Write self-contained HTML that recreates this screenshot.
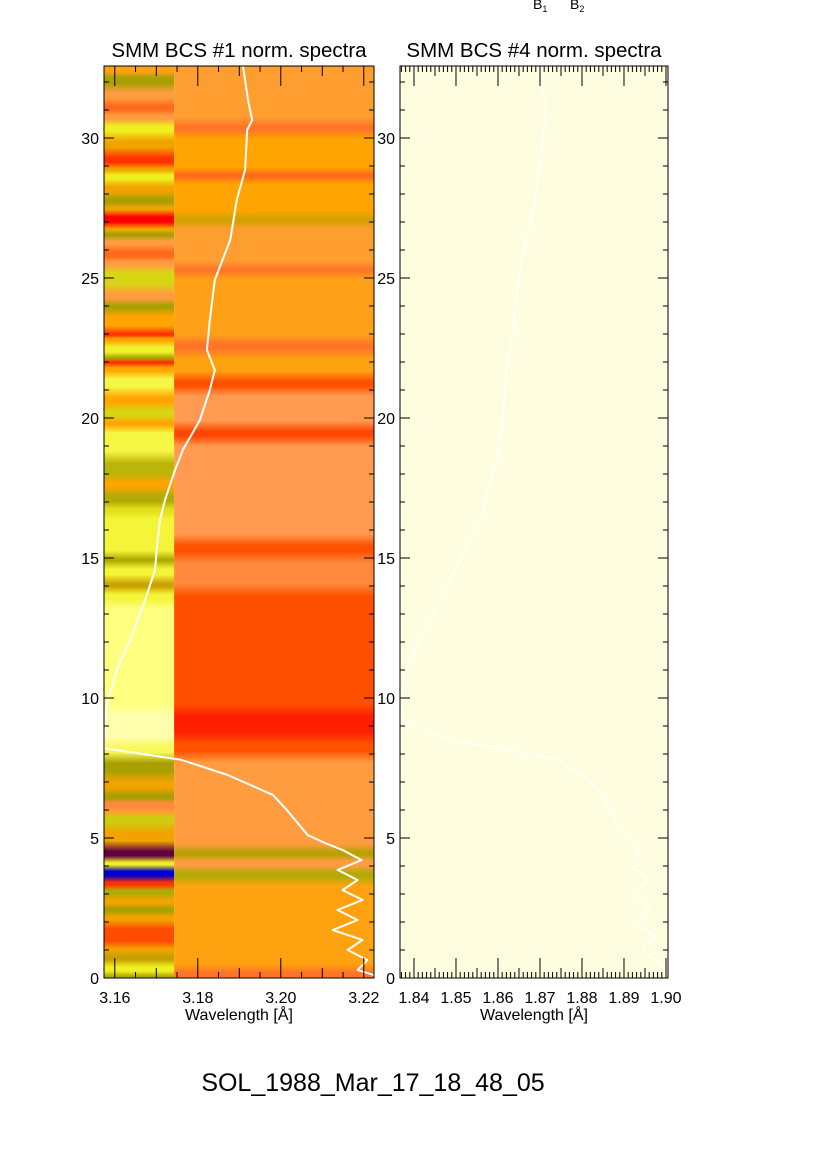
<!DOCTYPE html>
<html><head><meta charset="utf-8"><style>
body{margin:0;background:#fff;}
svg{display:block;font-family:"Liberation Sans",sans-serif;}
</style></head><body>
<svg id="c" width="826" height="1169" viewBox="0 0 826 1169">
<defs id="defs"></defs>
<g id="g"></g>
</svg>
<script>
// ---- data ----
const stripTops = [32.57,32.3,31.8,31.25,30.9,30.57,30.1,29.46,28.96,28.8,28.43,27.9,27.6,27.36,26.82,26.64,26.46,26.07,25.64,25.4,24.57,24.1,23.86,23.07,22.9,22.7,22.18,22.07,21.9,21.6,20.9,20.4,19.93,19.68,18.6,17.8,17.43,16.82,16.6,15.04,14.82,14.2,13.86,13.4,9.57,8.4,7.9,7.18,6.6,6.36,6.0,5.9,5.4,4.68,4.21,3.96,3.5,3.25,2.9,2.54,2.32,1.96,1.1,0.9,0.54,0.1];
const stripVals = [0.55,0.7,0.5,0.4,0.5,0.85,0.6,0.3,0.6,0.85,0.6,0.7,0.6,0.2,0.6,0.7,0.5,0.4,0.5,0.8,0.5,0.7,0.58,0.3,0.58,0.86,0.7,0.3,0.58,0.88,0.58,0.8,0.58,0.88,0.74,0.58,0.72,0.82,0.87,0.72,0.87,0.65,0.87,0.93,0.97,0.9,0.7,0.6,0.7,0.45,0.52,0.78,0.6,0.03,0.85,0.0,0.3,0.72,0.6,0.7,0.6,0.35,0.6,0.66,0.85,0.72];
const mainTops = [32.57,30.54,30.18,28.75,28.57,27.18,26.96,25.4,25.18,22.79,22.32,21.46,21.0,19.68,19.21,15.64,15.04,13.86,9.57,8.6,7.9,4.57,4.32,3.86,3.5,0.29];
const mainVals = [0.52,0.42,0.58,0.4,0.58,0.64,0.52,0.42,0.55,0.42,0.56,0.36,0.48,0.34,0.48,0.36,0.45,0.36,0.26,0.36,0.5,0.68,0.5,0.72,0.56,0.42];
const curve1X = [3.1909,3.1921,3.1931,3.1919,3.1914,3.1894,3.1878,3.1841,3.1829,3.1822,3.1841,3.1829,3.1805,3.1764,3.1745,3.1721,3.1709,3.1702,3.1697,3.1673,3.1637,3.1605,3.1584,3.1576,3.1574,3.1761,3.1872,3.1981,3.2017,3.2065,3.2110,3.2149,3.2195,3.2137,3.2185,3.2149,3.2197,3.2137,3.2185,3.2125,3.2197,3.2161,3.2209,3.2185,3.2225];
const curve1Y = [32.57,31.36,30.64,30.29,28.86,27.79,26.36,24.93,23.5,22.43,21.71,21.0,19.93,18.86,18.14,17.07,16.36,15.46,14.57,13.5,12.07,11.0,9.93,9.21,8.21,7.79,7.25,6.54,5.96,5.1,4.8,4.57,4.21,3.86,3.5,3.14,2.79,2.43,2.07,1.71,1.36,1.0,0.64,0.29,0.1];
const curve2X = [1.8707,1.8712,1.8688,1.8652,1.8633,1.8617,1.8612,1.8598,1.8557,1.8510,1.8462,1.8414,1.8390,1.8376,1.8367,1.8486,1.8629,1.8748,1.8843,1.8890,1.8938,1.8915,1.8962,1.8920,1.8962,1.8925,1.8974,1.8945,1.8986,1.9005];
const curve2Y = [32.57,30.64,27.79,25.29,22.79,21.36,19.93,18.5,16.36,14.93,13.5,12.07,11.36,10.64,9.21,8.5,8.14,7.79,6.71,5.29,4.57,4.0,3.5,3.0,2.5,2.0,1.5,1.0,0.5,0.1];
const xTicks1 = ["3.16","3.18","3.20","3.22"];
const xTicks2 = ["1.84","1.85","1.86","1.87","1.88","1.89","1.90"];
const yTicks = ["0","5","10","15","20","25","30"];

// ---- layout ----
const NS="http://www.w3.org/2000/svg";
const g=document.getElementById('g'), defs=document.getElementById('defs');
const top_=66,bot=978,yMax=(978-66)/28;
const y=v=>bot-v*28;
const P1={x0:104,x1:374,w0:3.1574,w1:3.1574+270/4150}, P2={x0:400,x1:668,w0:1.83667,w1:1.83667+268/4200};
const sx=(P,w)=>P.x0+(w-P.w0)/(P.w1-P.w0)*(P.x1-P.x0);
function el(t,a,p){const e=document.createElementNS(NS,t);for(const k in a)e.setAttribute(k,a[k]);(p||g).appendChild(e);return e;}
const stops=[[0,[0,0,208]],[0.03,[96,0,64]],[0.2,[255,0,0]],[0.36,[255,80,0]],[0.48,[255,154,80]],[0.58,[255,164,0]],[0.7,[168,160,0]],[0.85,[240,240,32]],[0.93,[255,255,128]],[1,[255,255,208]]];
function cmap(v){for(let i=1;i<stops.length;i++){if(v<=stops[i][0]){const [a,ca]=stops[i-1],[b,cb]=stops[i];const t=(v-a)/(b-a);return 'rgb('+ca.map((c,k)=>Math.round(c+(cb[k]-c)*t)).join(',')+')';}}return 'rgb(255,255,208)';}
function gradient(id,tops,vals){
  const lg=el('linearGradient',{id:id,x1:0,y1:0,x2:0,y2:1},defs);
  const bl=0.22;
  for(let i=0;i<tops.length;i++){
    const t=Math.min(tops[i],yMax), b=i+1<tops.length?tops[i+1]:0;
    const h=t-b, e=Math.min(bl,h/3);
    const c=cmap(vals[i]);
    el('stop',{offset:((yMax-(t-e))/yMax).toFixed(5),'stop-color':c},lg);
    el('stop',{offset:((yMax-(b+e))/yMax).toFixed(5),'stop-color':c},lg);
  }
}
gradient('gs',stripTops,stripVals);gradient('gm',mainTops,mainVals);
const stripEnd=sx(P1,3.1743);
let r=el('rect',{x:P1.x0,y:top_,width:stripEnd-P1.x0,height:bot-top_,fill:'url(#gs)'});

r=el('rect',{x:stripEnd,y:top_,width:P1.x1-stripEnd,height:bot-top_,fill:'url(#gm)'});

r=el('rect',{x:P2.x0,y:top_,width:P2.x1-P2.x0,height:bot-top_,fill:'#fffde0'});


function line(P,xs,ys,col,name){
  const d=xs.map((w,i)=>(i?'L':'M')+sx(P,w).toFixed(1)+','+y(ys[i]).toFixed(1)).join('');
  const p=el('path',{d:d,fill:'none',stroke:col,'stroke-width':2,'stroke-linejoin':'round'});
  
}
line(P1,curve1X,curve1Y,'#ffffff','lightcurve-bcs1');
line(P2,curve2X,curve2Y,'#fffff6','lightcurve-bcs4');

function axes(P,ticks,minorStep,midStep,title,tname){
  const fr=el('rect',{x:P.x0,y:top_,width:P.x1-P.x0,height:bot-top_,fill:'none',stroke:'#000','stroke-width':1});
  
  for(let v=0;v<=32;v++){const L=v%5===0?10:5;
    el('line',{x1:P.x0,x2:P.x0+L,y1:y(v),y2:y(v),stroke:'#000'});
    el('line',{x1:P.x1,x2:P.x1-L,y1:y(v),y2:y(v),stroke:'#000'});}
  yTicks.forEach(t=>{const tx=el('text',{x:P.x0-5,y:y(+t)+6,'text-anchor':'end','font-size':16},g);tx.textContent=t;
    });
  for(let i=Math.ceil(P.w0/minorStep-1e-6);i*minorStep<=P.w1+1e-9;i++){
    const w=i*minorStep,xx=sx(P,w);
    const major=ticks.some(t=>Math.abs(+t-w)<minorStep/3);
    const mid=Math.abs(w/midStep-Math.round(w/midStep))<1e-4;
    const L=major?20:(mid?10:6);
    el('line',{x1:xx,x2:xx,y1:bot,y2:bot-L,stroke:'#000'});
    el('line',{x1:xx,x2:xx,y1:top_,y2:top_+L,stroke:'#000'});}
  ticks.forEach(t=>{const tx=el('text',{x:sx(P,+t),y:1003,'text-anchor':'middle','font-size':16},g);tx.textContent=t;
    });
  let tx=el('text',{x:(P.x0+P.x1)/2,y:1020,'text-anchor':'middle','font-size':16});tx.textContent='Wavelength [Å]';
  
  tx=el('text',{x:(P.x0+P.x1)/2,y:57,'text-anchor':'middle','font-size':20.5});tx.textContent=title;
  
}
axes(P1,xTicks1,0.005,0.01,'SMM BCS #1 norm. spectra','panel-bcs1');
axes(P2,xTicks2,0.001,0.005,'SMM BCS #4 norm. spectra','panel-bcs4');

let t=el('text',{x:373,y:1091,'text-anchor':'middle','font-size':25});t.textContent='SOL_1988_Mar_17_18_48_05';

t=el('text',{x:533,y:9,'font-size':14});t.innerHTML='B<tspan font-size="9" dy="3">1</tspan>';

t=el('text',{x:570,y:9,'font-size':14});t.innerHTML='B<tspan font-size="9" dy="3">2</tspan>';

</script>
</body></html>
